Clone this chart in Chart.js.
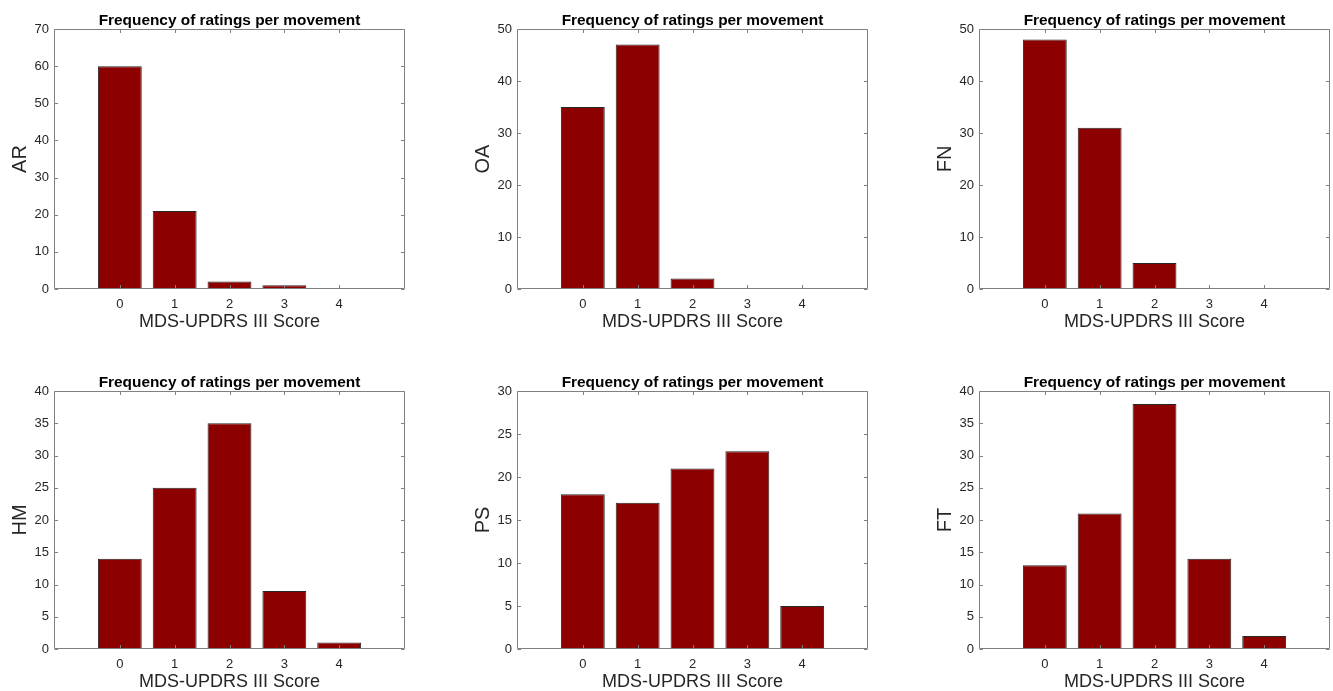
<!DOCTYPE html>
<html>
<head>
<meta charset="utf-8">
<script src="https://cdn.jsdelivr.net/npm/chart.js@4.4.1/dist/chart.umd.min.js"></script>
<style>
  html, body { margin: 0; padding: 0; background: #ffffff; }
  #wrap { position: relative; width: 1333px; height: 691px; overflow: hidden; background: #ffffff; }
  canvas { position: absolute; }
</style>
</head>
<body>
<div id="wrap"></div>
<script>
// ---- data ----
const scores = [0, 1, 2, 3, 4];
const scoreLabels = ['0', '1', '2', '3', '4'];
const movements = ['AR', 'OA', 'FN', 'HM', 'PS', 'FT'];
const AR = [60, 21, 2, 1, 0];
const OA = [35, 47, 2, 0, 0];
const FN = [48, 31, 5, 0, 0];
const HM = [14, 25, 35, 9, 1];
const PS = [18, 17, 21, 23, 5];
const FT = [13, 21, 38, 14, 2];
const seriesValues = [AR, OA, FN, HM, PS, FT];
const yMaxes = [70, 50, 50, 40, 30, 40];
const ySteps = [10, 10, 10, 5, 5, 5];
const xMin = -1.2, xMax = 5.2;
const titleText = 'Frequency of ratings per movement';
const xTitle = 'MDS-UPDRS III Score';

// ---- layout ----
const FONT = "'Liberation Sans', Arial, Helvetica, sans-serif";
const canvasLefts = [0, 463, 925];
const canvasTops = [0, 362];
const canvasHeights = [341, 339];
const canvasWidth = 408;

const frame = {
  id: 'matlabFrame',
  afterDraw(chart) {
    const { ctx, chartArea: a, scales } = chart;
    const x = scales.x, y = scales.y;
    const L = Math.round(a.left) + 0.5, R = Math.round(a.right) - 0.5;
    const T = Math.round(a.top) + 0.5, B = Math.round(a.bottom) - 0.5;
    ctx.save();
    ctx.strokeStyle = '#808080';
    ctx.lineWidth = 1;
    ctx.beginPath();
    ctx.rect(L, T, R - L, B - T);
    const tl = 3.5;
    x.ticks.forEach(t => {
      const px = Math.round(x.getPixelForValue(t.value)) + 0.5;
      ctx.moveTo(px, B); ctx.lineTo(px, B - tl);
      ctx.moveTo(px, T); ctx.lineTo(px, T + tl);
    });
    y.ticks.forEach(t => {
      const py = Math.round(y.getPixelForValue(t.value)) + 0.5;
      ctx.moveTo(L, py); ctx.lineTo(L + tl, py);
      ctx.moveTo(R, py); ctx.lineTo(R - tl, py);
    });
    ctx.stroke();
    // title
    ctx.fillStyle = '#000000';
    ctx.font = 'bold 15.4px ' + FONT;
    ctx.textAlign = 'center';
    ctx.textBaseline = 'alphabetic';
    ctx.fillText(chart.options.plugins.frameTitle.text, (a.left + a.right) / 2, a.top - 4);
    ctx.restore();
  }
};

const wrap = document.getElementById('wrap');
movements.forEach((mv, i) => {
  const row = Math.floor(i / 3), col = i % 3;
  const cv = document.createElement('canvas');
  cv.width = canvasWidth;
  cv.height = canvasHeights[row];
  cv.style.left = canvasLefts[col] + 'px';
  cv.style.top = canvasTops[row] + 'px';
  cv.style.width = canvasWidth + 'px';
  cv.style.height = canvasHeights[row] + 'px';
  wrap.appendChild(cv);

  const vals = seriesValues[i];
  new Chart(cv, {
    type: 'bar',
    data: {
      datasets: [{
        data: scores.map((s, k) => ({ x: s, y: vals[k] })),
        backgroundColor: '#8c0000',
        borderColor: '#262626',
        borderWidth: 1,
        barPercentage: 0.8,
        categoryPercentage: 1.0
      }]
    },
    options: {
      responsive: false,
      animation: false,
      devicePixelRatio: 1,
      layout: { padding: { top: 29, right: 3, bottom: 0, left: 0 } },
      plugins: {
        legend: { display: false },
        tooltip: { enabled: false },
        title: { display: false },
        frameTitle: { text: titleText }
      },
      scales: {
        x: {
          type: 'linear',
          min: xMin,
          max: xMax,
          offset: false,
          grid: { display: false, offset: false, drawTicks: false },
          border: { display: false },
          afterBuildTicks: (s) => { s.ticks = scores.map(v => ({ value: v })); },
          afterFit: (s) => { s.height = 52; },
          ticks: {
            autoSkip: false,
            maxRotation: 0,
            padding: 8,
            color: '#262626',
            font: { family: FONT, size: 13 },
            callback: (v) => scoreLabels[scores.indexOf(v)]
          },
          title: {
            display: true,
            text: xTitle,
            color: '#262626',
            font: { family: FONT, size: 18 },
            padding: { top: 0, bottom: 8 }
          }
        },
        y: {
          min: 0,
          max: yMaxes[i],
          grid: { display: false, drawTicks: false },
          border: { display: false },
          afterFit: (s) => { s.width = 54; },
          ticks: {
            stepSize: ySteps[i],
            padding: 5,
            color: '#262626',
            font: { family: FONT, size: 13 }
          },
          title: {
            display: true,
            text: mv,
            color: '#262626',
            font: { family: FONT, size: 20 },
            padding: { top: 8, bottom: 0 }
          }
        }
      }
    },
    plugins: [frame]
  });
});
</script>
</body>
</html>
